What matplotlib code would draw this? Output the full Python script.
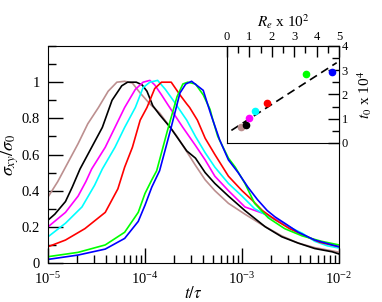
import matplotlib
matplotlib.use('Agg')
import matplotlib.pyplot as plt
import matplotlib.ticker as mticker
import numpy as np

plt.rcParams['font.family'] = 'serif'
plt.rcParams['font.serif'] = ['Liberation Serif', 'DejaVu Serif']
plt.rcParams['mathtext.fontset'] = 'stix'

# curves: log10(t/tau) and sigma_xy/sigma_0
brown_t = [-5.00, -4.90, -4.79, -4.69, -4.59, -4.48, -4.38, -4.29, -4.21, -4.13, -4.05, -3.95,
           -3.85, -3.67, -3.48, -3.38, -3.28, -3.14, -2.97, -2.79, -2.59, -2.42, -2.25, -2.00]
brown_s = [0.365, 0.45, 0.56, 0.66, 0.77, 0.86, 0.95, 1.0, 1.005, 0.995, 0.94, 0.88,
           0.83, 0.70, 0.54, 0.46, 0.40, 0.33, 0.27, 0.21, 0.15, 0.11, 0.085, 0.06]

black_t = [-5.00, -4.93, -4.82, -4.75, -4.67, -4.55, -4.44, -4.34, -4.24, -4.18, -4.09, -4.03,
           -3.98, -3.92, -3.85, -3.74, -3.57, -3.48, -3.38, -3.28, -3.14, -2.97, -2.76, -2.59,
           -2.42, -2.25, -2.07, -2.00]
black_s = [0.237, 0.27, 0.34, 0.42, 0.52, 0.64, 0.75, 0.90, 0.98, 1.0, 1.0, 0.985,
           0.95, 0.87, 0.82, 0.75, 0.62, 0.58, 0.50, 0.44, 0.37, 0.29, 0.20, 0.145,
           0.11, 0.08, 0.062, 0.05]

magenta_t = [-5.00, -4.82, -4.69, -4.61, -4.55, -4.41, -4.31, -4.21, -4.10, -4.02, -3.95, -3.90,
             -3.83, -3.77, -3.61, -3.48, -3.38, -3.28, -3.14, -2.97, -2.76, -2.59, -2.42, -2.38]
magenta_s = [0.20, 0.28, 0.37, 0.45, 0.52, 0.64, 0.75, 0.86, 0.96, 1.0, 1.01, 0.985,
             0.93, 0.88, 0.75, 0.65, 0.57, 0.48, 0.40, 0.31, 0.27, 0.225, 0.17, 0.16]

cyan_t = [-5.00, -4.82, -4.65, -4.52, -4.44, -4.31, -4.21, -4.10, -4.02, -3.95, -3.87, -3.79,
          -3.71, -3.57, -3.48, -3.38, -3.28, -3.14, -3.00, -2.87, -2.73, -2.56, -2.38, -2.25,
          -2.12, -2.00]
cyan_s = [0.145, 0.22, 0.31, 0.43, 0.52, 0.64, 0.75, 0.86, 0.97, 1.0, 1.01, 0.96,
          0.90, 0.79, 0.70, 0.61, 0.53, 0.44, 0.37, 0.30, 0.26, 0.21, 0.165, 0.12,
          0.095, 0.083]

red_t = [-5.00, -4.82, -4.62, -4.41, -4.28, -4.21, -4.13, -4.05, -3.98, -3.90, -3.83, -3.73,
         -3.64, -3.57, -3.54, -3.46, -3.38, -3.28, -3.14, -3.00, -2.90, -2.79, -2.66, -2.51,
         -2.35, -2.20, -2.00]
red_s = [0.09, 0.127, 0.19, 0.28, 0.41, 0.53, 0.64, 0.79, 0.86, 0.965, 1.0, 1.0,
         0.93, 0.88, 0.86, 0.79, 0.69, 0.60, 0.48, 0.40, 0.35, 0.29, 0.24, 0.19,
         0.15, 0.115, 0.09]

green_t = [-5.00, -4.69, -4.41, -4.21, -4.07, -4.00, -3.93, -3.88, -3.77, -3.67, -3.61, -3.56,
           -3.48, -3.40, -3.33, -3.30, -3.25, -3.14, -3.07, -2.97, -2.87, -2.73, -2.56, -2.38,
           -2.18, -2.00]
green_s = [0.035, 0.059, 0.10, 0.17, 0.28, 0.385, 0.46, 0.51, 0.73, 0.92, 0.99, 1.0,
           0.99, 0.93, 0.85, 0.79, 0.70, 0.58, 0.53, 0.44, 0.33, 0.25, 0.19, 0.15,
           0.12, 0.10]

blue_t = [-5.00, -4.69, -4.41, -4.21, -4.07, -4.00, -3.93, -3.85, -3.74, -3.64, -3.58, -3.52,
          -3.40, -3.32, -3.23, -3.14, -3.04, -2.94, -2.84, -2.74, -2.66, -2.56, -2.42, -2.25,
          -2.07, -2.00]
blue_s = [0.02, 0.044, 0.077, 0.136, 0.23, 0.32, 0.42, 0.51, 0.73, 0.94, 0.99, 1.005,
          0.955, 0.82, 0.68, 0.57, 0.50, 0.42, 0.35, 0.29, 0.255, 0.22, 0.17, 0.127,
          0.10, 0.09]

curves = [(brown_t, brown_s, '#bc8f8f'), (black_t, black_s, 'black'),
          (magenta_t, magenta_s, '#ff00ff'), (cyan_t, cyan_s, '#00ffff'),
          (red_t, red_s, '#ff0000'), (green_t, green_s, '#00ff00'),
          (blue_t, blue_s, '#0000ff')]

# inset: Re x 10^2 vs t0 x 10^4
re_vals = [0.64, 0.87, 0.99, 1.25, 1.79, 3.52, 4.69]
t0_vals = [0.65, 0.74, 1.03, 1.34, 1.64, 2.84, 2.92]
pt_colors = ['#bc8f8f', 'black', '#ff00ff', '#00ffff', '#ff0000', '#00ff00', '#0000ff']
fit_x = [0.2, 4.9]
fit_y = [0.52, 3.31]

fig = plt.figure(figsize=(3.82, 3.02), dpi=100)
ax = fig.add_axes([0.1257, 0.1291, 0.7618, 0.7185])

for lt, s, c in curves:
    ax.plot(10 ** np.array(lt), s, color=c, lw=1.2)

ax.set_xscale('log')
ax.set_xlim(1e-5, 1e-2)
ax.set_ylim(0, 1.2)
ax.set_yticks([0, 0.2, 0.4, 0.6, 0.8, 1.0])
ax.set_yticklabels(['0', '0.2', '0.4', '0.6', '0.8', '1'])
ax.yaxis.set_minor_locator(mticker.MultipleLocator(0.1))
ax.xaxis.set_major_locator(mticker.LogLocator(base=10, numticks=10))
ax.xaxis.set_minor_locator(mticker.LogLocator(base=10, subs=np.arange(2, 10), numticks=10))
ax.tick_params(which='both', direction='in', top=False, right=False, labelsize=10.5, width=1)
ax.tick_params(which='major', length=11, pad=6)
ax.tick_params(which='minor', length=6)
ax.set_xlabel(r'$t/\tau$', fontsize=12, labelpad=-1)
ax.set_ylabel(r'$\sigma_{xy}/\sigma_0$', fontsize=13, labelpad=0)

ins = fig.add_axes([0.594, 0.5265, 0.2932, 0.3212])
ins.plot(fit_x, fit_y, color='black', ls=(0, (5, 3)), lw=1.2)
for x, y, c in zip(re_vals, t0_vals, pt_colors):
    ins.plot(x, y, 'o', color=c, ms=4.5)
ins.set_xlim(0, 5)
ins.set_ylim(0, 4)
ins.xaxis.tick_top()
ins.yaxis.tick_right()
ins.xaxis.set_label_position('top')
ins.yaxis.set_label_position('right')
ins.xaxis.set_major_locator(mticker.MultipleLocator(1))
ins.yaxis.set_major_locator(mticker.MultipleLocator(1))
ins.xaxis.set_minor_locator(mticker.MultipleLocator(0.5))
ins.yaxis.set_minor_locator(mticker.MultipleLocator(0.5))
ins.tick_params(which='both', direction='in', labelsize=9, width=1, pad=2)
ins.tick_params(which='major', length=8)
ins.tick_params(which='minor', length=5)
ins.set_xlabel(r'$R_e$ x 10$^2$', fontsize=11, labelpad=3)
ins.set_ylabel(r'$t_0$ x 10$^4$', fontsize=11, labelpad=5)

plt.savefig('out.png', dpi=100)
